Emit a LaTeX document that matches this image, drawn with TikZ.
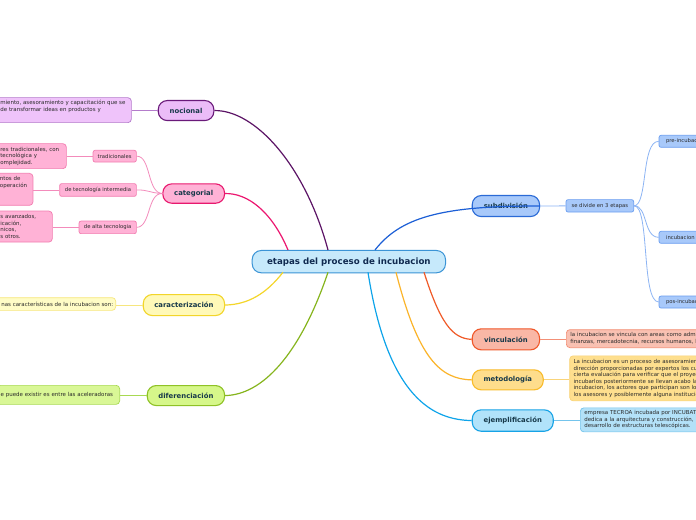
\documentclass[tikz,border=0pt]{standalone}
\usepackage{fontspec}
\setmainfont{DejaVu Sans}
\definecolor{labc}{HTML}{17394A}
\definecolor{txtc}{HTML}{2A2A2A}
\definecolor{ctrf}{HTML}{C6E9FB}\definecolor{ctrd}{HTML}{3B94D6}\definecolor{ctrt}{HTML}{102A50}
\definecolor{nocf}{HTML}{EBBCF8}\definecolor{nocd}{HTML}{6A1A7A}\definecolor{nocc}{HTML}{5C1466}
\definecolor{nodf}{HTML}{EFC3FA}\definecolor{nodd}{HTML}{B47CCB}
\definecolor{catf}{HTML}{FFB2D6}\definecolor{catd}{HTML}{E8196E}\definecolor{catc}{HTML}{EC1770}
\definecolor{cats}{HTML}{F27DB0}\definecolor{catl}{HTML}{F38BBB}
\definecolor{carf}{HTML}{FFF9B8}\definecolor{card}{HTML}{F2D52A}\definecolor{carc}{HTML}{F4D62A}
\definecolor{cadf}{HTML}{FFFCC6}\definecolor{cadd}{HTML}{F6E67E}
\definecolor{diff}{HTML}{D6F78A}\definecolor{difd}{HTML}{8FC226}\definecolor{difc}{HTML}{86B51D}
\definecolor{didf}{HTML}{D9F796}\definecolor{didd}{HTML}{A8D952}
\definecolor{subf}{HTML}{A8C9FA}\definecolor{subd}{HTML}{2A6AD6}\definecolor{subc}{HTML}{1C5FD6}
\definecolor{subs}{HTML}{6A9EF0}\definecolor{subl}{HTML}{8CB4F4}
\definecolor{vinf}{HTML}{F9B7A6}\definecolor{vind}{HTML}{F0582A}\definecolor{vinc}{HTML}{F05A28}
\definecolor{vidf}{HTML}{F9C1B2}\definecolor{vidd}{HTML}{F39077}
\definecolor{metf}{HTML}{FEDD8C}\definecolor{metd}{HTML}{F9BB2A}\definecolor{metc}{HTML}{FBB42A}
\definecolor{medf}{HTML}{FEDF8E}\definecolor{medd}{HTML}{F9D47A}
\definecolor{ejef}{HTML}{B1E3FA}\definecolor{ejed}{HTML}{17A3E6}\definecolor{ejec}{HTML}{0EA4EA}
\definecolor{ejdf}{HTML}{B3E1F8}\definecolor{ejdd}{HTML}{74C4EC}
\begin{document}
\begin{tikzpicture}[x=1bp,y=-1bp,
  mainbox/.style={rounded corners=9bp, draw, line width=1.1bp, font=\fontsize{6.9}{8}\selectfont\bfseries, text=labc, inner sep=0pt, anchor=north west},
  subbox/.style={rounded corners=2bp, draw, line width=0.7bp, font=\fontsize{5.3}{6.5}\selectfont, text=txtc, inner sep=0pt, anchor=north west},
  detbox/.style={rounded corners=3.5bp, draw, line width=0.7bp, font=\fontsize{5.5}{6.6}\selectfont, text=txtc, align=left, inner xsep=4bp, inner ysep=0pt},
  conn/.style={line width=1.2bp},
  thin/.style={line width=0.8bp}]
\useasboundingbox (0,0) rectangle (696,520);
\clip (0,0) rectangle (696,520);
\fill[white] (0,0) rectangle (696,520);
% centre
\node[rounded corners=9bp, draw=ctrd, fill=ctrf, line width=1bp, inner sep=0pt, anchor=north west,
  minimum width=193.3bp, minimum height=22.3bp, text=ctrt, font=\fontsize{8.7}{10}\selectfont\bfseries] (ctr) at (251.7,250) {etapas del proceso de incubacion};
\coordinate (cnoc) at (328,250);
\coordinate (ccat) at (288,250);
\coordinate (ccar) at (283,272.3);
\coordinate (cdif) at (328,272.3);
\coordinate (csub) at (375,250);
\coordinate (cvin) at (424,272.3);
\coordinate (cmet) at (396,272.3);
\coordinate (ceje) at (368,272.3);
% main branches
\node[mainbox, fill=nocf, draw=nocd, minimum width=55.6bp, minimum height=20bp] (noc) at (157.7,100) {nocional};
\node[mainbox, fill=catf, draw=catd, minimum width=61.7bp, minimum height=19.4bp] (cat) at (162.3,183.3) {categorial};
\node[mainbox, fill=carf, draw=card, minimum width=81.3bp, minimum height=21bp] (car) at (142.7,294) {caracterización};
\node[mainbox, fill=diff, draw=difd, minimum width=77.3bp, minimum height=20bp] (dif) at (146.7,385) {diferenciación};
\node[mainbox, fill=subf, draw=subd, minimum width=67.3bp, minimum height=21bp] (sub) at (471.7,195) {subdivisión};
\node[mainbox, fill=vinf, draw=vind, minimum width=67.3bp, minimum height=21bp] (vin) at (471.7,328.3) {vinculación};
\node[mainbox, fill=metf, draw=metd, minimum width=71bp, minimum height=20bp] (met) at (471.7,369.3) {metodología};
\node[mainbox, fill=ejef, draw=ejed, minimum width=81bp, minimum height=21.4bp] (eje) at (471.7,409.3) {ejemplificación};
% main connectors
\draw[conn, draw=nocc] (cnoc) .. controls (305,165) and (255,110) .. (noc.east);
\draw[conn, draw=catc] (ccat) .. controls (272,212) and (248,193) .. (cat.east);
\draw[conn, draw=carc] (ccar) .. controls (266,294) and (248,304.5) .. (car.east);
\draw[conn, draw=difc] (cdif) .. controls (300,355) and (262,395) .. (dif.east);
\draw[conn, draw=subc] (csub) .. controls (400,218) and (440,205.5) .. (sub.east);
\draw[conn, draw=vinc] (cvin) .. controls (440,322) and (452,338.8) .. (vin.west);
\draw[conn, draw=metc] (cmet) .. controls (418,358) and (440,379.3) .. (met.west);
\draw[conn, draw=ejec] (ceje) .. controls (388,400) and (435,420) .. (eje.west);
% nocional detail
\node[detbox, anchor=north east, fill=nodf, draw=nodd, text width=127bp, minimum height=25bp] (nocd1) at (131.7,97.3)
  {miento, asesoramiento y capacitación que se\\de transformar ideas en productos y\\\strut};
\draw[thin, draw=nodd] (noc.west) -- (noc.west -| nocd1.east);
% categorial subnodes
\node[subbox, fill=catf, draw=cats, minimum width=43.3bp, minimum height=11.7bp] (trad) at (92.7,150) {tradicionales};
\node[subbox, fill=catf, draw=cats, minimum width=76.7bp, minimum height=12.7bp] (inte) at (59.3,183.3) {de tecnología intermedia};
\node[subbox, fill=catf, draw=cats, minimum width=57.3bp, minimum height=12.6bp] (alta) at (78.7,220.7) {de alta tecnologia};
\draw[thin, draw=catl] (cat.west) .. controls (147,193) and (151,155.8) .. (trad.east);
\draw[thin, draw=catl] (cat.west) .. controls (150,193) and (148,189.6) .. (inte.east);
\draw[thin, draw=catl] (cat.west) .. controls (147,193) and (151,227) .. (alta.east);
\node[detbox, anchor=north east, fill=catf, draw=cats, text width=62bp, minimum height=25bp] (tradd) at (66.7,143.3)
  {res tradicionales, con\\ tecnológica y\\omplejidad.};
\node[detbox, anchor=north east, fill=catf, draw=cats, text width=29bp, minimum height=32bp] (inted) at (33.3,173)
  {ntos de\\ operación\\\strut\\\strut};
\node[detbox, anchor=north east, fill=catf, draw=cats, text width=48bp, minimum height=31bp] (altad) at (52.7,210.7)
  {s avanzados,\\icación,\\nicos,\\s otros.};
\draw[thin, draw=catl] (trad.west) -- (trad.west -| tradd.east);
\draw[thin, draw=catl] (inte.west) -- (inte.west -| inted.east);
\draw[thin, draw=catl] (alta.west) -- (alta.west -| altad.east);
% caracterizacion detail
\node[detbox, anchor=north east, fill=cadf, draw=cadd, text width=125bp, align=right, inner xsep=2.5bp, minimum height=12.7bp] (card1) at (116,297.3)
  {nas características de la incubacion son:};
\draw[thin, draw=cadd] (car.west) -- (car.west -| card1.east);
% diferenciacion detail
\node[detbox, anchor=north east, fill=didf, draw=didd, text width=115bp, minimum height=19bp] (difd1) at (120,385)
  {e puede existir es entre las aceleradoras};
\draw[thin, draw=didd] (dif.west) -- (dif.west -| difd1.east);
% subdivision
\node[subbox, fill=subf, draw=subs, minimum width=67.6bp, minimum height=12.4bp] (sd) at (565.7,199.3) {se divide en 3 etapas};
\draw[thin, draw=subl] (sub.east) -- (sd.west);
\node[subbox, fill=subf, draw=subs, minimum width=60bp, minimum height=12bp, text width=52bp, align=left] (pre) at (658.7,135) {\hspace*{3bp}pre-incubacion};
\node[subbox, fill=subf, draw=subs, minimum width=60bp, minimum height=12bp, text width=52bp, align=left] (inc) at (658.7,231) {\hspace*{3bp}incubacion};
\node[subbox, fill=subf, draw=subs, minimum width=60bp, minimum height=12bp, text width=52bp, align=left] (pos) at (658.7,295.7) {\hspace*{3bp}pos-incubacion};
\draw[thin, draw=subl] (sd.east) .. controls (648,205.5) and (641,141) .. (pre.west);
\draw[thin, draw=subl] (sd.east) .. controls (648,205.5) and (643,237) .. (inc.west);
\draw[thin, draw=subl] (sd.east) .. controls (650,205.5) and (641,301.7) .. (pos.west);
% vinculacion detail
\node[detbox, anchor=north west, fill=vidf, draw=vidd, text width=200bp, minimum height=18bp] (vind1) at (566,329.3)
  {la incubacion se vincula con areas como administración,\\finanzas, mercadotecnia, recursos humanos, legal};
\draw[thin, draw=vidd] (vin.east) -- (vin.east -| vind1.west);
% metodologia detail
\node[detbox, anchor=north west, fill=medf, draw=medd, text width=220bp, minimum height=45bp] (metd1) at (569.3,355.5)
  {La incubacion es un proceso de asesoramiento y\\dirección proporcionadas por expertos los cuales\\cierta evaluación para verificar que el proyecto\\incubarlos posteriormente se llevan acabo las\\incubacion, los actores que participan son los\\los asesores y posiblemente alguna institución};
\draw[thin, draw=medd] (met.east) -- (met.east -| metd1.west);
% ejemplificacion detail
\node[detbox, anchor=north west, fill=ejdf, draw=ejdd, text width=200bp, minimum height=24bp] (ejed1) at (580,407.5)
  {empresa TECROA incubada por INCUBATEC\\dedica a la arquitectura y construcción,\\desarrollo de estructuras telescópicas.};
\draw[thin, draw=ejdd] (eje.east) -- (eje.east -| ejed1.west);
\end{tikzpicture}
\end{document}
